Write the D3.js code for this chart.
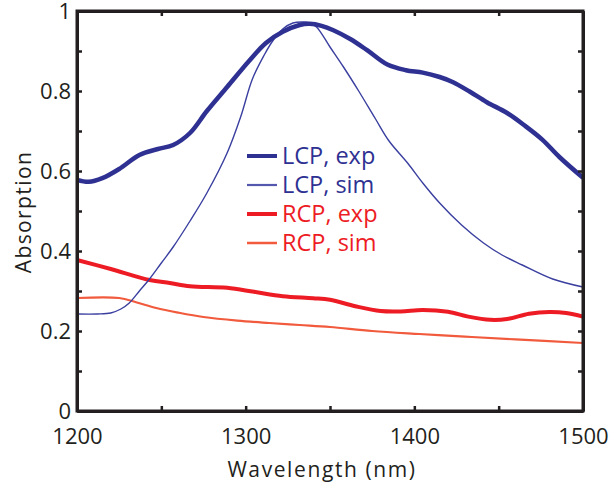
<!DOCTYPE html>
<html>
<head>
<meta charset="utf-8">
<script src="https://cdn.jsdelivr.net/npm/d3@7"></script>
<style>
  body { margin: 0; background: #fff; }
  text { font-family: "Open Sans", sans-serif; }
</style>
</head>
<body>
<div id="wrapper"></div>
<script>
// data
const lcpExpWl = [1200,1207,1215,1225,1237,1248,1257,1267,1277,1289,1302,1312,1322,1332,1338,1345,1352,1362,1372,1384,1395,1405,1415,1423,1433,1443,1455,1465,1476,1486,1500]
const lcpExp   = [0.578,0.573,0.582,0.605,0.64,0.655,0.665,0.695,0.75,0.81,0.875,0.92,0.948,0.965,0.968,0.963,0.952,0.93,0.902,0.866,0.852,0.846,0.835,0.822,0.798,0.772,0.745,0.715,0.678,0.635,0.583]

const lcpSimWl = [1200,1212,1220,1226,1231,1237,1243,1250,1257,1267,1277,1289,1297,1304,1311,1316,1322,1328,1334,1338,1342,1350,1358,1367,1377,1385,1396,1405,1415,1428,1441,1452,1464,1482,1500]
const lcpSim   = [0.2425,0.2425,0.245,0.255,0.27,0.30,0.33,0.37,0.41,0.475,0.545,0.645,0.735,0.83,0.89,0.925,0.955,0.97,0.9725,0.97,0.96,0.91,0.86,0.80,0.73,0.675,0.62,0.57,0.52,0.465,0.42,0.39,0.365,0.33,0.31]

const rcpExpWl = [1200,1220,1243,1255,1267,1289,1305,1322,1340,1350,1365,1380,1392,1405,1420,1432,1445,1455,1468,1480,1490,1500]
const rcpExp   = [0.3775,0.355,0.3275,0.32,0.312,0.308,0.298,0.287,0.282,0.278,0.262,0.25,0.249,0.2525,0.248,0.236,0.228,0.23,0.243,0.2475,0.245,0.236]

const rcpSimWl = [1200,1225,1235,1247,1260,1275,1295,1314,1332,1350,1375,1403,1430,1460,1500]
const rcpSim   = [0.2825,0.2825,0.272,0.2575,0.246,0.235,0.226,0.22,0.215,0.21,0.2,0.1925,0.186,0.179,0.17]

const xTicks = [1200,1300,1400,1500]
const yTicks = [0,0.2,0.4,0.6,0.8,1]
const legendLabels = ["LCP, exp","LCP, sim","RCP, exp","RCP, sim"]

// chart dimensions
const dimensions = {
    width: 610, height: 482,
    margins: {top: 11, bottom: 71, left: 77, right: 27}
}
dimensions.boundsWidth = dimensions.width - dimensions.margins.left - dimensions.margins.right
dimensions.boundsHeight = dimensions.height - dimensions.margins.top - dimensions.margins.bottom

const wrapper = d3.select("#wrapper").append("svg")
    .attr("width", dimensions.width)
    .attr("height", dimensions.height)

const bounds = wrapper.append("g")
    .attr("transform", `translate(${dimensions.margins.left},${dimensions.margins.top})`)

// scales
const xScale = d3.scaleLinear().domain([1200,1500]).range([0, dimensions.boundsWidth])
const yScale = d3.scaleLinear().domain([0,1]).range([dimensions.boundsHeight, 0])

// lines
const series = [
    {wl: lcpExpWl, v: lcpExp, color: "#2e3192", width: 4.5},
    {wl: lcpSimWl, v: lcpSim, color: "#3a3f9f", width: 1.4},
    {wl: rcpExpWl, v: rcpExp, color: "#ed1c24", width: 4},
    {wl: rcpSimWl, v: rcpSim, color: "#f15a3c", width: 2.2}
]
const line = d3.line()
    .x(d => xScale(d[0]))
    .y(d => yScale(d[1]))
    .curve(d3.curveCatmullRom)

// thin ones under thick ones
const drawOrder = [3,2,1,0]
drawOrder.forEach(i => {
    const s = series[i]
    bounds.append("path")
        .datum(d3.zip(s.wl, s.v))
        .attr("fill", "none")
        .attr("stroke", s.color)
        .attr("stroke-width", s.width)
        .attr("stroke-linejoin", "round")
        .attr("d", line)
})

// axes (ticks inward, mirrored on top/right)
const tickFont = "22px"
const xAxis = bounds.append("g")
    .attr("transform", `translate(0,${dimensions.boundsHeight})`)
    .call(d3.axisBottom(xScale).tickValues(d3.range(1200,1501,50)).tickSizeInner(-5).tickSizeOuter(0)
        .tickFormat(d => xTicks.includes(d) ? d : ""))
xAxis.selectAll("text").attr("y", 17).attr("dy", "0.71em").style("font-size", tickFont).attr("fill", "#231f20")

const yAxis = bounds.append("g")
    .call(d3.axisLeft(yScale).tickValues(d3.range(0,1.01,0.1)).tickSizeInner(-5).tickSizeOuter(0)
        .tickFormat(d => yTicks.some(t => Math.abs(t-d) < 1e-6) ? d3.format("~g")(+d.toFixed(1)) : ""))
yAxis.selectAll("text").attr("x", -6).style("font-size", tickFont).attr("fill", "#231f20")

const topAxis = bounds.append("g")
    .call(d3.axisTop(xScale).tickValues(d3.range(1200,1501,50)).tickSizeInner(-5).tickSizeOuter(0).tickFormat(""))
const rightAxis = bounds.append("g")
    .attr("transform", `translate(${dimensions.boundsWidth},0)`)
    .call(d3.axisRight(yScale).tickValues(d3.range(0,1.01,0.1)).tickSizeInner(-5).tickSizeOuter(0).tickFormat(""))

;[xAxis, yAxis, topAxis, rightAxis].forEach(a => {
    a.select(".domain").attr("stroke", "#231f20").attr("stroke-width", 3)
    a.selectAll(".tick line").attr("stroke", "#231f20").attr("stroke-width", 2.5)
})
bounds.append("rect")
    .attr("width", dimensions.boundsWidth).attr("height", dimensions.boundsHeight)
    .attr("fill", "none").attr("stroke", "#231f20").attr("stroke-width", 3)

// axis titles
wrapper.append("text")
    .attr("x", 322).attr("y", 477)
    .attr("text-anchor", "middle")
    .style("font-size", "21px").style("letter-spacing", "1.6px").attr("fill", "#231f20")
    .text("Wavelength (nm)")
wrapper.append("text")
    .attr("transform", "translate(31,212) rotate(-90)")
    .attr("text-anchor", "middle")
    .style("font-size", "21px").style("letter-spacing", "1.4px").attr("fill", "#231f20")
    .text("Absorption")

// legend
const legendColors = ["#2e3192","#5357ad","#ed1c24","#f15a3c"]
const legendWidths = [4,2.2,4,2.5]
const textColors = ["#2e3192","#2e3192","#ed1c24","#ed1c24"]
const legend = wrapper.append("g").attr("transform", "translate(247,156)")
legendLabels.forEach((lab, i) => {
    const row = legend.append("g").attr("transform", `translate(0,${i*29})`)
    row.append("line").attr("x1", 0).attr("x2", 30)
        .attr("stroke", legendColors[i]).attr("stroke-width", legendWidths[i])
    row.append("text").attr("x", 35).attr("dy", "0.36em")
        .style("font-size", "23.5px").attr("fill", textColors[i])
        .text(lab)
})
</script>
</body>
</html>
